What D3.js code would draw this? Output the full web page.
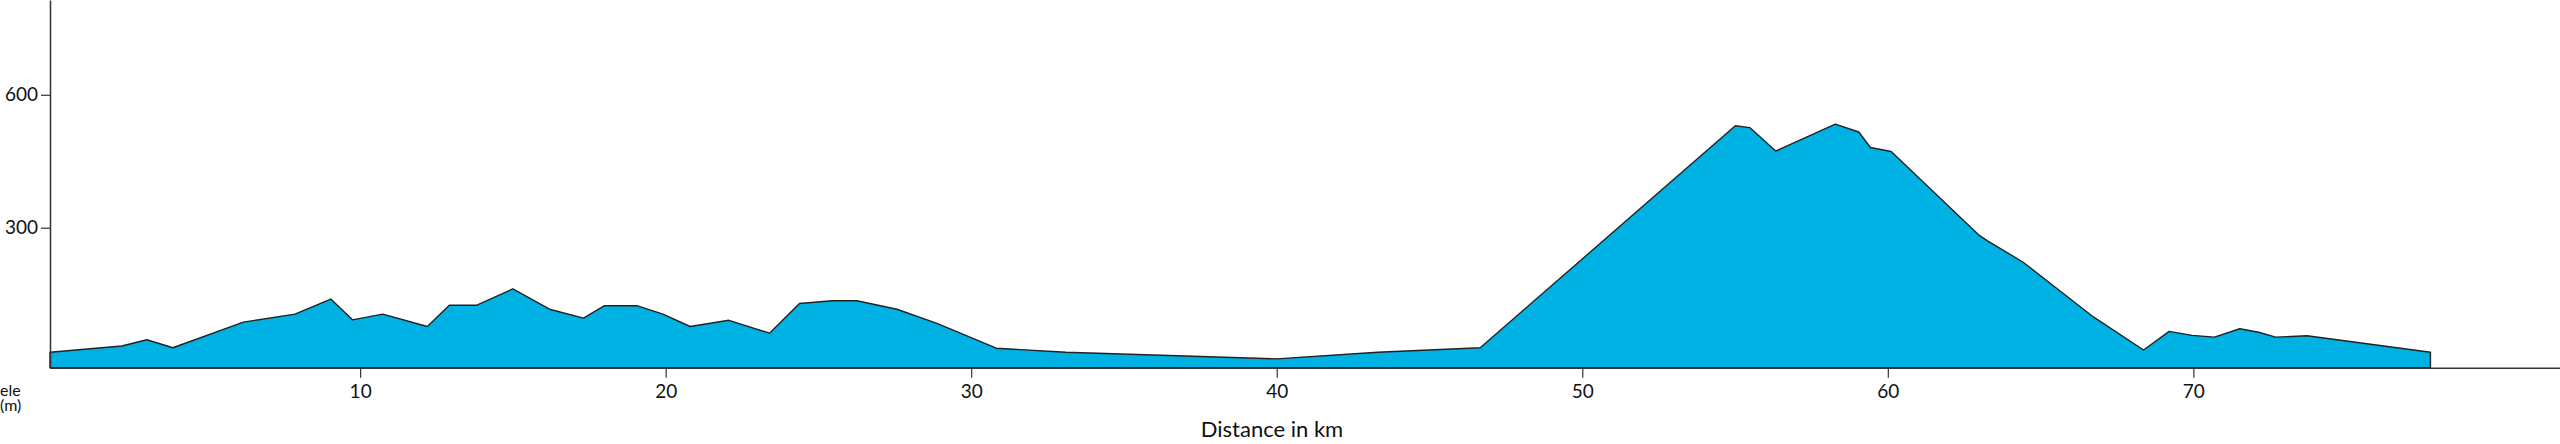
<html>
    <head>
        <style>
            body { margin: 0; background: #fff; }
            text { font-family: Lato, "Open Sans", sans-serif; fill: #111; }
        </style>
        <script src="https://d3js.org/d3.v7.min.js"></script>
    </head>
    <body>
        <svg id="profile" width="2560" height="444"></svg>
        <script>
            // distance along the route (km) and elevation (m)
            const distances = [-0.15, 2.2, 3.02, 3.87, 6.18, 7.87, 9.04, 9.75, 10.74, 12.2, 12.92, 13.82,
                15.0, 16.2, 17.31, 18.0, 19.06, 19.91, 20.8, 22.07, 23.4, 24.38, 25.45, 26.26, 27.57,
                28.88, 30.82, 33.1, 40.0, 43.3, 46.66, 55.01, 55.48, 56.33, 58.28, 59.05, 59.43, 60.11,
                62.97, 63.25, 64.43, 66.74, 68.37, 69.21, 69.96, 70.69, 71.52, 72.14, 72.69, 73.72, 77.76];
            const elevations = [19, 33, 47, 29, 87, 105, 139, 92, 105, 77, 125, 125,
                162, 116, 96, 124, 124, 105, 77, 91, 62, 129, 135, 135, 116,
                84, 28, 19, 4, 19, 29, 530, 526, 473, 534, 516, 481, 472,
                284, 271, 222, 98, 24, 66, 57, 53, 72, 64, 53, 56, 19];
            const xTicks = [10, 20, 30, 40, 50, 60, 70];
            const yTicks = [300, 600];

            const profile = distances.map((d, i) => ({dist: d, ele: elevations[i]}));

            const plotLeft = 50;
            const plotRight = 2560;
            const plotBottom = 367.7;
            const plotTop = 0;

            const svg = d3.select('#profile');

            const xScale = d3.scaleLinear()
                .domain([-0.15, 82.0])
                .range([plotLeft, plotRight]);

            const yScale = d3.scaleLinear()
                .domain([-16, 814])
                .range([plotBottom, plotTop]);

            // elevation area
            const area = d3.area()
                .x(d => xScale(d.dist))
                .y0(yScale(-16))
                .y1(d => yScale(d.ele));

            svg.append('path')
                .datum(profile)
                .attr('d', area)
                .attr('fill', '#00b2e3')
                .attr('stroke', '#222')
                .attr('stroke-width', 1.4)
                .attr('stroke-linejoin', 'round');

            // axes
            const xAxis = svg.append('g')
                .attr('transform', `translate(0, ${plotBottom})`)
                .call(d3.axisBottom(xScale).tickValues(xTicks).tickSize(10).tickPadding(7).tickSizeOuter(0));

            const yAxis = svg.append('g')
                .attr('transform', `translate(${plotLeft}, 0)`)
                .call(d3.axisLeft(yScale).tickValues(yTicks).tickSize(9).tickPadding(3).tickSizeOuter(0));

            [xAxis, yAxis].forEach(g => {
                g.select('.domain').attr('stroke', '#333').attr('stroke-width', 1.5);
                g.selectAll('.tick line').attr('stroke', '#333').attr('stroke-width', 1.2);
                g.selectAll('.tick text')
                    .style('font-family', 'Lato, sans-serif')
                    .style('font-size', '19px')
                    .attr('fill', '#111');
            });

            // axis labels
            svg.append('text')
                .attr('x', 1272)
                .attr('y', 437)
                .style('text-anchor', 'middle')
                .style('font-size', '22px')
                .text('Distance in km');

            svg.append('text')
                .attr('x', 0)
                .attr('y', 396)
                .style('font-size', '16px')
                .text('ele');

            svg.append('text')
                .attr('x', 0)
                .attr('y', 411)
                .style('font-size', '16px')
                .text('(m)');
        </script>
    </body>
</html>
